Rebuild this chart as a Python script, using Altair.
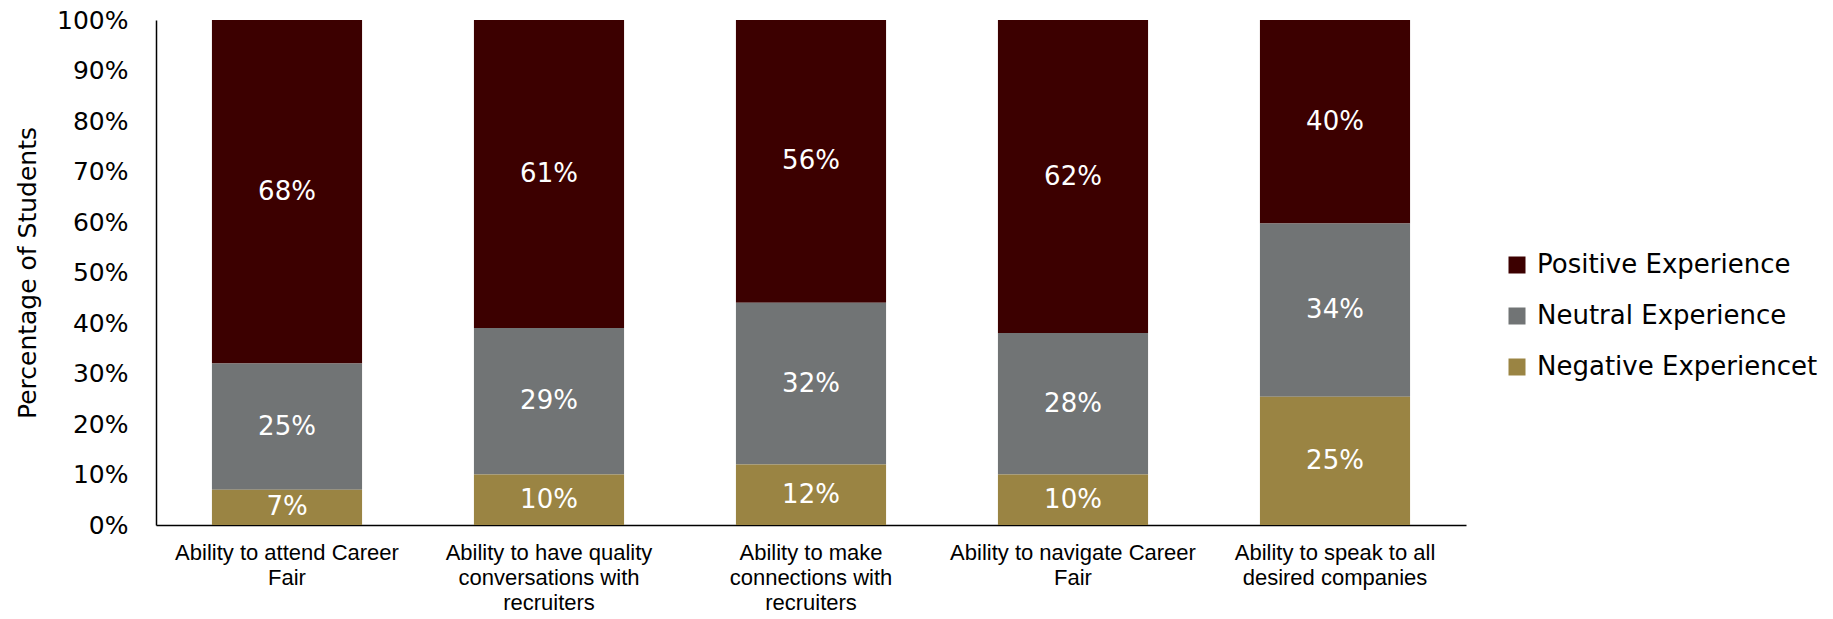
import altair as alt
import pandas as pd

categories = [
    "Ability to attend Career Fair",
    "Ability to have quality conversations with recruiters",
    "Ability to make connections with recruiters",
    "Ability to navigate Career Fair",
    "Ability to speak to all desired companies",
]
label_lines = [
    ["Ability to attend Career", "Fair"],
    ["Ability to have quality", "conversations with", "recruiters"],
    ["Ability to make", "connections with", "recruiters"],
    ["Ability to navigate Career", "Fair"],
    ["Ability to speak to all", "desired companies"],
]
series = ["Positive Experience", "Neutral Experience", "Negative Experiencet"]
positive = [68, 61, 56, 62, 40.3]
neutral = [25, 29, 32, 28, 34.3]
negative = [7, 10, 12, 10, 25.4]
colors = ["#3C0000", "#717475", "#9A8443"]
stack_order = [2, 1, 0]
y_ticks = [0, 10, 20, 30, 40, 50, 60, 70, 80, 90, 100]

rows = []
for i, c in enumerate(categories):
    for s, vals, o in zip(series, [positive, neutral, negative], stack_order):
        rows.append({"category": c, "series": s, "value": vals[i], "ord": o})
df = pd.DataFrame(rows)

cat_js = "[" + ",".join("'" + c + "'" for c in categories) + "]"
lines_js = "[" + ",".join("[" + ",".join("'" + l + "'" for l in ls) + "]" for ls in label_lines) + "]"
label_expr = f"{lines_js}[indexof({cat_js}, datum.label)]"

base = alt.Chart(df).transform_stack(
    stack="value", groupby=["category"], as_=["lo", "hi"],
    sort=[alt.SortField("ord", "ascending")]
).transform_calculate(
    mid="(datum.lo + datum.hi) / 2",
    txt="format(datum.value, '.0f') + '%'"
)

x_enc = alt.X(
    "category:N", sort=categories,
    scale=alt.Scale(paddingInner=0.427, paddingOuter=0.2135),
    axis=alt.Axis(
        title=None, labelAngle=0, labelExpr=label_expr,
        labelFont="Liberation Sans", labelFontSize=22, labelLineHeight=25,
        labelColor="black", ticks=False, domainColor="black", domainWidth=1.5,
        labelPadding=17, labelLimit=400, grid=False,
    ),
)

y_enc = alt.Y(
    "lo:Q",
    scale=alt.Scale(domain=[0, 100], nice=False),
    axis=alt.Axis(
        values=y_ticks, labelExpr="datum.value + '%'",
        labelFont="DejaVu Sans", labelFontSize=25, labelColor="black",
        ticks=False, grid=False, domainColor="black", domainWidth=1.5,
        labelPadding=28,
        title="Percentage of Students", titleFont="DejaVu Sans", titleFontSize=25,
        titleFontWeight="normal", titleColor="black", titlePadding=16,
    ),
)

bars = base.mark_bar().encode(
    x=x_enc,
    y=y_enc,
    y2="hi:Q",
    color=alt.Color(
        "series:N",
        scale=alt.Scale(domain=series, range=colors),
        legend=alt.Legend(
            title=None, orient="none", legendX=1348, legendY=232,
            symbolType="square", symbolSize=289, symbolStrokeWidth=0,
            labelFont="DejaVu Sans", labelFontSize=26, labelColor="black",
            labelOffset=7, rowPadding=25, padding=0, labelLimit=400,
        ),
    ),
)

text = base.mark_text(color="white", font="DejaVu Sans", fontSize=26).encode(
    x=alt.X("category:N", sort=categories),
    y=alt.Y("mid:Q"),
    text="txt:N",
)

chart = alt.layer(bars, text).properties(
    width=1310, height=505,
    padding={"left": 148, "top": 12, "right": 359, "bottom": 86},
    autosize=alt.AutoSizeParams(type="none"),
).configure_view(stroke=None)

chart.save("out.html", embed_options={"renderer": "svg", "actions": False})
